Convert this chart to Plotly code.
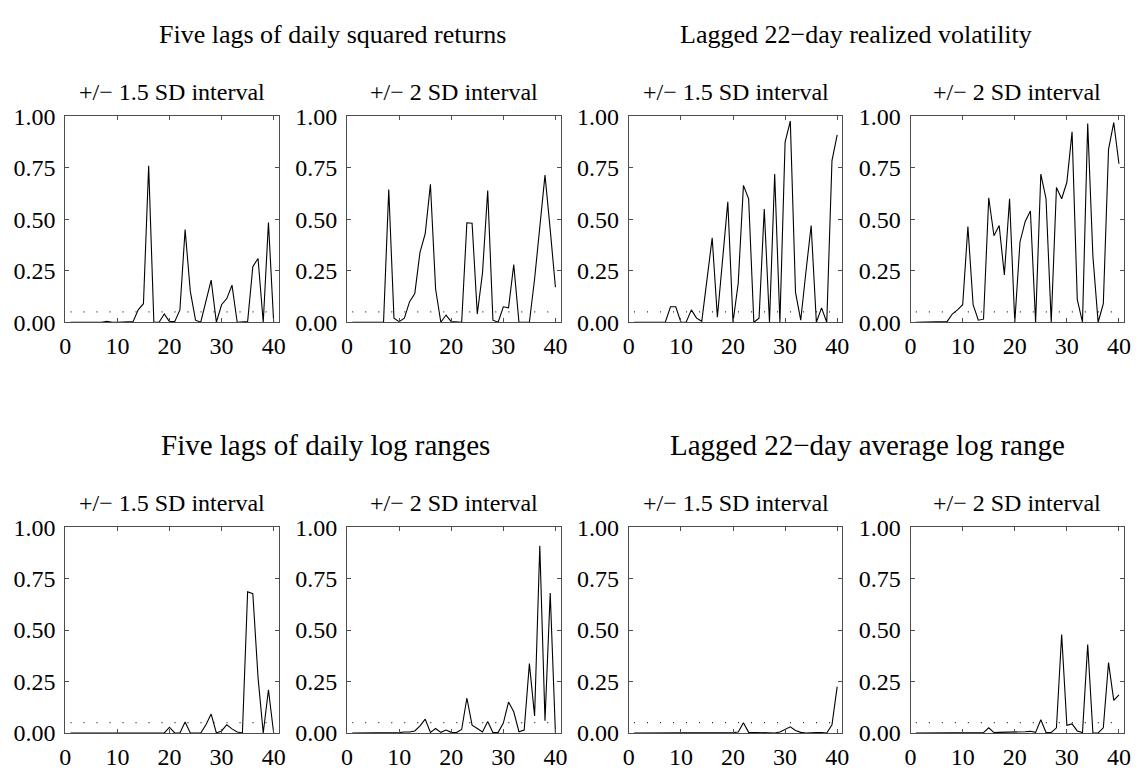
import plotly.graph_objects as go

# ---------------- data ----------------
lags = [1, 2, 3, 4, 5, 6, 7, 8, 9, 10, 11, 12, 13, 14, 15, 16, 17, 18, 19, 20,
        21, 22, 23, 24, 25, 26, 27, 28, 29, 30, 31, 32, 33, 34, 35, 36, 37, 38, 39, 40]

sq_ret_15 = [0, 0, 0, 0, 0, 0, 0, 0.005, 0, 0, 0, 0, 0.003, 0.06, 0.09, 0.76, 0, 0, 0.04, 0.003,
             0.003, 0.06, 0.45, 0.15, 0.01, 0, 0.1, 0.205, 0, 0.085, 0.115, 0.18, 0, 0, 0.003, 0.27, 0.31, 0, 0.485, 0]
sq_ret_2 = [0, 0, 0, 0, 0, 0, 0, 0.645, 0.02, 0.003, 0.02, 0.1, 0.14, 0.34, 0.43, 0.67, 0.16, 0, 0.035, 0.003,
            0, 0, 0.483, 0.481, 0.04, 0.24, 0.64, 0.01, 0, 0.075, 0.07, 0.28, 0, 0, 0, 0.21, 0.47, 0.715, 0.45, 0.17]
rv_15 = [0, 0, 0, 0, 0, 0, 0, 0.075, 0.075, 0, 0, 0.06, 0.02, 0.005, 0.2, 0.41, 0.025, 0.3, 0.585, 0,
         0.19, 0.665, 0.6, 0, 0.02, 0.55, 0, 0.72, 0, 0.875, 0.977, 0.145, 0.01, 0.245, 0.47, 0, 0.07, 0, 0.785, 0.91]
rv_2 = [0, 0, 0, 0, 0, 0, 0.003, 0.04, 0.06, 0.085, 0.465, 0.085, 0.01, 0.015, 0.605, 0.42, 0.47, 0.23, 0.6, 0,
        0.39, 0.49, 0.54, 0, 0.72, 0.6, 0, 0.655, 0.6, 0.68, 0.925, 0.11, 0, 0.965, 0.32, 0, 0.09, 0.84, 0.97, 0.77]
lr_15 = [0, 0, 0, 0, 0, 0, 0, 0, 0, 0, 0, 0, 0, 0, 0, 0, 0, 0, 0, 0.028,
         0, 0, 0.053, 0, 0, 0, 0.04, 0.092, 0, 0.01, 0.04, 0.02, 0.005, 0, 0.686, 0.677, 0.27, 0, 0.21, 0]
lr_2 = [0, 0, 0, 0, 0, 0, 0, 0, 0, 0.002, 0.005, 0.005, 0.01, 0.035, 0.067, 0.003, 0.022, 0.003, 0.014, 0.003,
        0.002, 0.017, 0.17, 0.038, 0.022, 0.005, 0.056, 0.002, 0.003, 0.048, 0.15, 0.103, 0.006, 0.014, 0.337, 0.083, 0.91, 0.06, 0.68, 0]
alr_15 = [0, 0, 0, 0, 0, 0, 0, 0, 0, 0, 0, 0, 0, 0, 0, 0, 0, 0.002, 0.003, 0.002,
          0.005, 0.05, 0.003, 0.002, 0.002, 0.003, 0.002, 0, 0.005, 0.017, 0.03, 0.012, 0.003, 0, 0.002, 0.002, 0.002, 0, 0.04, 0.225]
alr_2 = [0, 0, 0, 0, 0, 0, 0, 0, 0, 0, 0, 0, 0, 0.002, 0.025, 0.002, 0.003, 0.003, 0.005, 0.006,
         0.003, 0.006, 0.008, 0.003, 0.064, 0.002, 0.003, 0.025, 0.478, 0.037, 0.044, 0.01, 0.002, 0.43, 0, 0, 0.025, 0.342, 0.158, 0.185]

threshold = 0.05

group_titles_top = ["Five lags of daily squared returns", "Lagged 22\u2212day realized volatility"]
group_titles_bottom = ["Five lags of daily log ranges", "Lagged 22\u2212day average log range"]
sub_titles = ["+/\u2212 1.5 SD interval", "+/\u2212 2 SD interval"]

x_tick_vals = [0, 10, 20, 30, 40]
x_tick_text = ["0", "10", "20", "30", "40"]
y_tick_vals = [0, 0.25, 0.5, 0.75, 1.0]
y_tick_text = ["0.00", "0.25", "0.50", "0.75", "1.00"]

series = [sq_ret_15, sq_ret_2, rv_15, rv_2, lr_15, lr_2, alr_15, alr_2]

# ---------------- layout geometry ----------------
W, H = 1145, 774
lefts = [60, 345, 630, 915]
pw = 216
rows = [(107, 320), (532, 745)]

FONT = "Liberation Serif, Times New Roman, serif"
AX_COL = "#4d4d4d"

fig = go.Figure()
layout = dict(
    width=W, height=H,
    margin=dict(l=0, r=0, t=0, b=0),
    paper_bgcolor="white", plot_bgcolor="white",
    showlegend=False,
    font=dict(family=FONT, size=24, color="black"),
)

annotations = []
k = 0
for r, (top, bot) in enumerate(rows):
    for c, left in enumerate(lefts):
        k += 1
        xa = "xaxis" if k == 1 else f"xaxis{k}"
        ya = "yaxis" if k == 1 else f"yaxis{k}"
        xr = "x" if k == 1 else f"x{k}"
        yr = "y" if k == 1 else f"y{k}"
        layout[xa] = dict(
            domain=[left / W, (left + pw) / W], anchor=yr,
            range=[0, 41], tickvals=x_tick_vals, ticktext=x_tick_text,
            ticks="inside", ticklen=4, tickcolor=AX_COL, tickwidth=1,
            showline=True, linecolor=AX_COL, linewidth=1, mirror="ticks",
            showgrid=False, zeroline=False, fixedrange=True,
            tickfont=dict(family=FONT, size=24, color="black"),
            ticklabelstandoff=2,
        )
        layout[ya] = dict(
            domain=[1 - bot / H, 1 - top / H], anchor=xr,
            range=[0, 1], tickvals=y_tick_vals, ticktext=y_tick_text,
            ticks="inside", ticklen=4, tickcolor=AX_COL, tickwidth=1,
            showline=True, linecolor=AX_COL, linewidth=1, mirror="ticks",
            showgrid=False, zeroline=False, fixedrange=True,
            tickfont=dict(family=FONT, size=24, color="black"),
            ticklabelstandoff=4,
        )
        fig.add_trace(go.Scatter(
            x=[lags[0], lags[-1]], y=[threshold, threshold], mode="lines",
            line=dict(color="#222222", width=1.2, dash="1px,12px"),
            xaxis=xr, yaxis=yr, hoverinfo="skip",
        ))
        fig.add_trace(go.Scatter(
            x=lags, y=series[k - 1], mode="lines",
            line=dict(color="black", width=1.1),
            xaxis=xr, yaxis=yr,
        ))
        annotations.append(dict(
            text=sub_titles[c % 2], xref="paper", yref="paper",
            x=(left + pw / 2) / W, y=1 - (top - 25) / H,
            xanchor="center", yanchor="middle", showarrow=False,
            font=dict(family=FONT, size=24, color="black"),
        ))

group_x_top = [330, 860]
group_x_bottom = [323, 871]
for i, t in enumerate(group_titles_top):
    annotations.append(dict(
        text=t, xref="paper", yref="paper", x=group_x_top[i] / W, y=1 - 22 / H,
        xanchor="center", yanchor="middle", showarrow=False,
        font=dict(family=FONT, size=26, color="black"),
    ))
for i, t in enumerate(group_titles_bottom):
    annotations.append(dict(
        text=t, xref="paper", yref="paper", x=group_x_bottom[i] / W, y=1 - 447 / H,
        xanchor="center", yanchor="middle", showarrow=False,
        font=dict(family=FONT, size=29, color="black"),
    ))

layout["annotations"] = annotations
fig.update_layout(**layout)
fig.write_html("out.html")
